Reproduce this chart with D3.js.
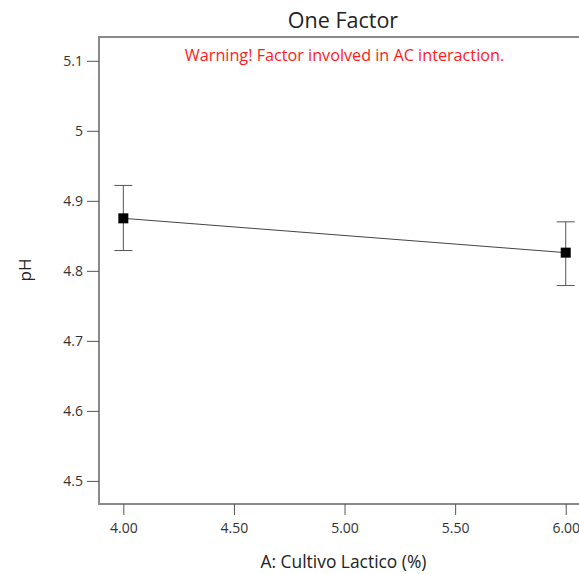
<!DOCTYPE html>
<html>
<head>
<meta charset="utf-8">
<script src="https://cdn.jsdelivr.net/npm/d3@7"></script>
<style>
  body { margin: 0; background: #fff; }
  text { font-family: "Open Sans", "Noto Sans", sans-serif; }
</style>
</head>
<body>
<div id="chart"></div>
<script>
// data
var factorLevels = [4.0, 6.0];
var phMeans = [4.875, 4.826];
var phLow = [4.829, 4.779];
var phHigh = [4.922, 4.870];
var xTicks = [4.0, 4.5, 5.0, 5.5, 6.0];
var yTicks = [4.5, 4.6, 4.7, 4.8, 4.9, 5.0, 5.1];

var svgWidth = 579;
var svgHeight = 574;
var margin = {top: 37, right: 0, bottom: 70, left: 99};
var width = svgWidth - margin.left - margin.right;
var height = svgHeight - margin.top - margin.bottom;

var svg = d3.select("#chart")
  .append("svg")
  .attr("width", svgWidth)
  .attr("height", svgHeight);

var chartGroup = svg.append("g")
  .attr("transform", `translate(${margin.left}, ${margin.top})`);

var xScale = d3.scaleLinear()
  .domain([3.89, 6.06])
  .range([0, width]);
var yScale = d3.scaleLinear()
  .domain([4.467, 5.134])
  .range([height, 0]);

// frame (right side falls outside the window, like the original)
chartGroup.append("rect")
  .attr("x", 0).attr("y", 0)
  .attr("width", width + 4).attr("height", height)
  .attr("fill", "none")
  .attr("stroke", "#8a8a8a")
  .attr("stroke-width", 2);

// axes
var leftAxis = d3.axisLeft(yScale)
  .tickValues(yTicks)
  .tickSize(12)
  .tickPadding(4)
  .tickFormat(d3.format("~g"));
var bottomAxis = d3.axisBottom(xScale)
  .tickValues(xTicks)
  .tickSize(11)
  .tickPadding(8)
  .tickFormat(d3.format(".2f"));

var yAxis = chartGroup.append("g").call(leftAxis);
var xAxis = chartGroup.append("g")
  .attr("transform", `translate(0, ${height})`)
  .call(bottomAxis);

[xAxis, yAxis].forEach(function(ax) {
  ax.select(".domain").remove();
  ax.selectAll(".tick line").attr("stroke", "#555").attr("stroke-width", 1);
  ax.selectAll(".tick text")
    .attr("fill", "#333")
    .style("font-size", "14px");
});

// line between means
var line = d3.line()
  .x((d, i) => xScale(factorLevels[i]))
  .y(d => yScale(d));
chartGroup.append("path")
  .datum(phMeans)
  .attr("d", line)
  .attr("fill", "none")
  .attr("stroke", "#444")
  .attr("stroke-width", 1);

// error bars
var errGroup = chartGroup.append("g");
factorLevels.forEach(function(lvl, i) {
  var cx = xScale(lvl);
  errGroup.append("line")
    .attr("x1", cx).attr("x2", cx)
    .attr("y1", yScale(phLow[i])).attr("y2", yScale(phHigh[i]))
    .attr("stroke", "#555");
  [phLow[i], phHigh[i]].forEach(function(v) {
    errGroup.append("line")
      .attr("x1", cx - 9).attr("x2", cx + 9)
      .attr("y1", yScale(v)).attr("y2", yScale(v))
      .attr("stroke", "#555");
  });
});

// points
chartGroup.selectAll("rect.pt")
  .data(phMeans)
  .enter()
  .append("rect")
  .attr("class", "pt")
  .attr("x", (d, i) => xScale(factorLevels[i]) - 5)
  .attr("y", d => yScale(d) - 5)
  .attr("width", 10)
  .attr("height", 10)
  .attr("fill", "#000");

// title
svg.append("text")
  .attr("x", 343)
  .attr("y", 28)
  .attr("text-anchor", "middle")
  .attr("fill", "#222")
  .style("font-size", "21.5px")
  .text("One Factor");

// warning
svg.append("text")
  .attr("x", 344.5)
  .attr("y", 61)
  .attr("text-anchor", "middle")
  .attr("fill", "#ff1a1a")
  .style("font-size", "16.2px")
  .text("Warning! Factor involved in AC interaction.");

// x axis label
svg.append("text")
  .attr("x", 343.5)
  .attr("y", 568)
  .attr("text-anchor", "middle")
  .attr("fill", "#222")
  .style("font-size", "17.4px")
  .text("A: Cultivo Lactico (%)");

// y axis label
svg.append("text")
  .attr("transform", `translate(31, 270) rotate(-90)`)
  .attr("text-anchor", "middle")
  .attr("fill", "#222")
  .style("font-size", "17px")
  .text("pH");
</script>
</body>
</html>
